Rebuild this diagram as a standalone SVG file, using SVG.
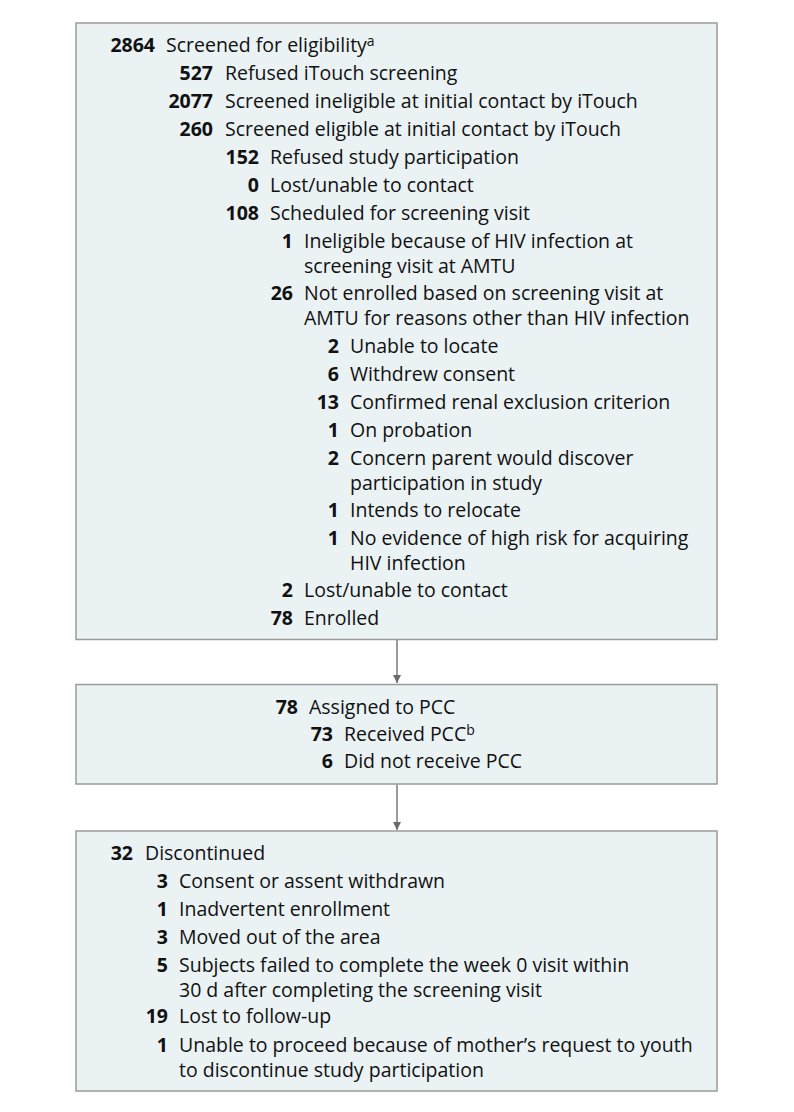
<svg xmlns="http://www.w3.org/2000/svg" width="794" height="1112" viewBox="0 0 794 1112">
<style>
.box{fill:#eaf2f4;stroke:#9a9a9a;stroke-width:1.5}
text{font-family:"Open Sans","Liberation Sans",sans-serif;font-size:19.5px;fill:#111111}
.n{font-weight:700;text-anchor:end}
.sup{font-size:14px}
.conn{stroke:#7a7a7a;stroke-width:1.5;fill:none}
</style>
<defs>
<marker id="ah" viewBox="0 0 10 10" refX="10" refY="5" markerWidth="8" markerHeight="8" markerUnits="userSpaceOnUse" orient="auto">
<path d="M0,0 L10,5 L0,10 z" fill="#6a6a6a"/>
</marker>
</defs>
<rect width="794" height="1112" fill="#ffffff"/>
<g id="connectors">
<line class="conn" x1="397" y1="640" x2="397" y2="683" marker-end="url(#ah)"/>
<line class="conn" x1="397" y1="784.5" x2="397" y2="830" marker-end="url(#ah)"/>
</g>
<g id="screening">
<rect class="box" x="76" y="23" width="641" height="616.5"/>
<text class="n" x="155" y="52">2864</text><text x="166" y="52">Screened for eligibility<tspan class="sup" dy="-6">a</tspan></text>
<text class="n" x="213" y="80">527</text><text x="225" y="80">Refused iTouch screening</text>
<text class="n" x="213" y="108">2077</text><text x="225" y="108">Screened ineligible at initial contact by iTouch</text>
<text class="n" x="213" y="136">260</text><text x="225" y="136">Screened eligible at initial contact by iTouch</text>
<text class="n" x="259" y="164">152</text><text x="270" y="164">Refused study participation</text>
<text class="n" x="259" y="192">0</text><text x="270" y="192">Lost/unable to contact</text>
<text class="n" x="259" y="220">108</text><text x="270" y="220">Scheduled for screening visit</text>
<text class="n" x="293" y="248">1</text><text x="304" y="248">Ineligible because of HIV infection at<tspan x="304" dy="25">screening visit at AMTU</tspan></text>
<text class="n" x="293" y="300">26</text><text x="304" y="300">Not enrolled based on screening visit at<tspan x="304" dy="25">AMTU for reasons other than HIV infection</tspan></text>
<text class="n" x="339" y="353">2</text><text x="350" y="353">Unable to locate</text>
<text class="n" x="339" y="381">6</text><text x="350" y="381">Withdrew consent</text>
<text class="n" x="339" y="409">13</text><text x="350" y="409">Confirmed renal exclusion criterion</text>
<text class="n" x="339" y="437">1</text><text x="350" y="437">On probation</text>
<text class="n" x="339" y="465">2</text><text x="350" y="465">Concern parent would discover<tspan x="350" dy="25">participation in study</tspan></text>
<text class="n" x="339" y="517">1</text><text x="350" y="517">Intends to relocate</text>
<text class="n" x="339" y="545">1</text><text x="350" y="545">No evidence of high risk for acquiring<tspan x="350" dy="24.5">HIV infection</tspan></text>
<text class="n" x="293" y="597">2</text><text x="304" y="597">Lost/unable to contact</text>
<text class="n" x="293" y="625">78</text><text x="304" y="625">Enrolled</text>
</g>
<g id="assigned">
<rect class="box" x="76" y="684.5" width="641" height="99.5"/>
<text class="n" x="298" y="714">78</text><text x="309" y="714">Assigned to PCC</text>
<text class="n" x="333" y="741">73</text><text x="344" y="741">Received PCC<tspan class="sup" dy="-6">b</tspan></text>
<text class="n" x="333" y="768">6</text><text x="344" y="768">Did not receive PCC</text>
</g>
<g id="discontinued">
<rect class="box" x="76" y="831" width="641" height="260"/>
<text class="n" x="133" y="860">32</text><text x="145" y="860">Discontinued</text>
<text class="n" x="168" y="888">3</text><text x="179" y="888">Consent or assent withdrawn</text>
<text class="n" x="168" y="916">1</text><text x="179" y="916">Inadvertent enrollment</text>
<text class="n" x="168" y="944">3</text><text x="179" y="944">Moved out of the area</text>
<text class="n" x="168" y="972">5</text><text x="179" y="972">Subjects failed to complete the week 0 visit within<tspan x="179" dy="24.5">30 d after completing the screening visit</tspan></text>
<text class="n" x="168" y="1023">19</text><text x="179" y="1023">Lost to follow-up</text>
<text class="n" x="168" y="1052">1</text><text x="179" y="1052">Unable to proceed because of mother’s request to youth<tspan x="179" dy="24.5">to discontinue study participation</tspan></text>
</g>
</svg>
